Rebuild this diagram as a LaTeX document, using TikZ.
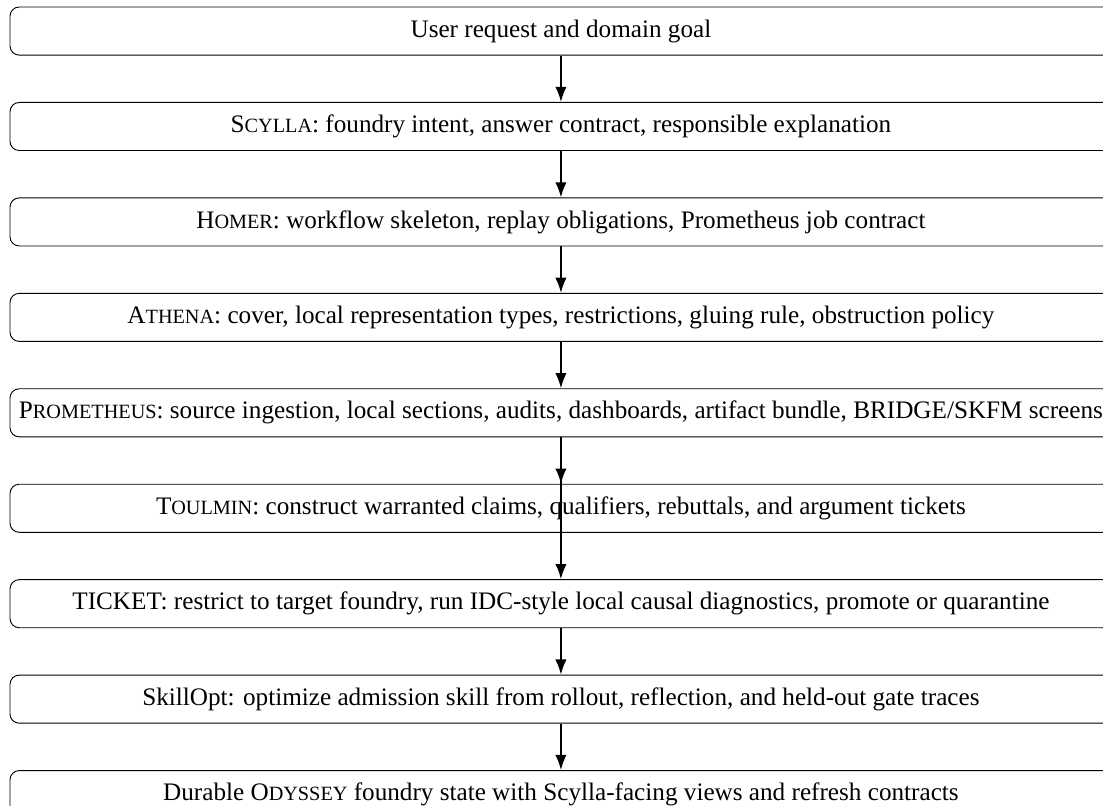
\documentclass[tikz,border=0pt]{standalone}
\usepackage{fontspec}
\setmainfont{Liberation Serif}
\usepackage{tikz}
\usetikzlibrary{positioning}
\usetikzlibrary{arrows.meta}

% imitation small caps for the agent names
\newcommand{\agentsc}[2]{#1{\fontsize{8.8}{10.5}\selectfont #2}}

\begin{document}
\begin{tikzpicture}[ align = center
                     , node distance = 20.2pt
                     , font = \fontsize{10.95}{13.6}\selectfont
                     , >={Latex}
                     , every node/.style = { rectangle
                                         , rounded corners
                                         , draw = black
                                         , align = center
                                         , inner sep = 2pt
                                         , minimum width = 479.1pt
                                         , minimum height = 20.9pt }
                     ]
    \useasboundingbox (0,0) rectangle (479.6pt,-350.4pt);
    %%
    %% Nodes
    %%
    \node (req)      at (243.9pt,-13.5pt)      {User request and domain goal};
    \node (scylla)   [below = of req]          {\agentsc{S}{CYLLA}: foundry intent, answer contract, responsible explanation};
    \node (homer)    [below = of scylla]       {\agentsc{H}{OMER}: workflow skeleton, replay obligations, Prometheus job contract};
    \node (athena)   [below = of homer]        {\agentsc{A}{THENA}: cover, local representation types, restrictions, gluing rule, obstruction policy};
    \node (prom)     [below = of athena]       {\agentsc{P}{ROMETHEUS}: source ingestion, local sections, audits, dashboards, artifact bundle, BRIDGE/SKFM screens};
    \node (toulmin)  [below = of prom]         {\agentsc{T}{OULMIN}: construct warranted claims, qualifiers, rebuttals, and argument tickets};
    \node (ticket)   [below = of toulmin]      {TICKET: restrict to target foundry, run IDC-style local causal diagnostics, promote or quarantine};
    \node (skillopt) [below = of ticket]       {SkillOpt: optimize admission skill from rollout, reflection, and held-out gate traces};
    \node (odyssey)  [below = of skillopt]     {Durable \agentsc{O}{DYSSEY} foundry state with Scylla-facing views and refresh contracts};

    %%
    %% Arrows
    %%
    \draw[->, thick] (req) edge (scylla);
    \draw[->, thick] (scylla) edge (homer);
    \draw[->, thick] (homer) edge (athena);
    \draw[->, thick] (athena) edge (prom);
    \draw[->, thick] (prom) edge (toulmin);
    \draw[->, thick] (prom) edge (ticket);
    \draw[->, thick] (ticket) edge (skillopt);
    \draw[->, thick] (skillopt) edge (odyssey);
\end{tikzpicture}
\end{document}
